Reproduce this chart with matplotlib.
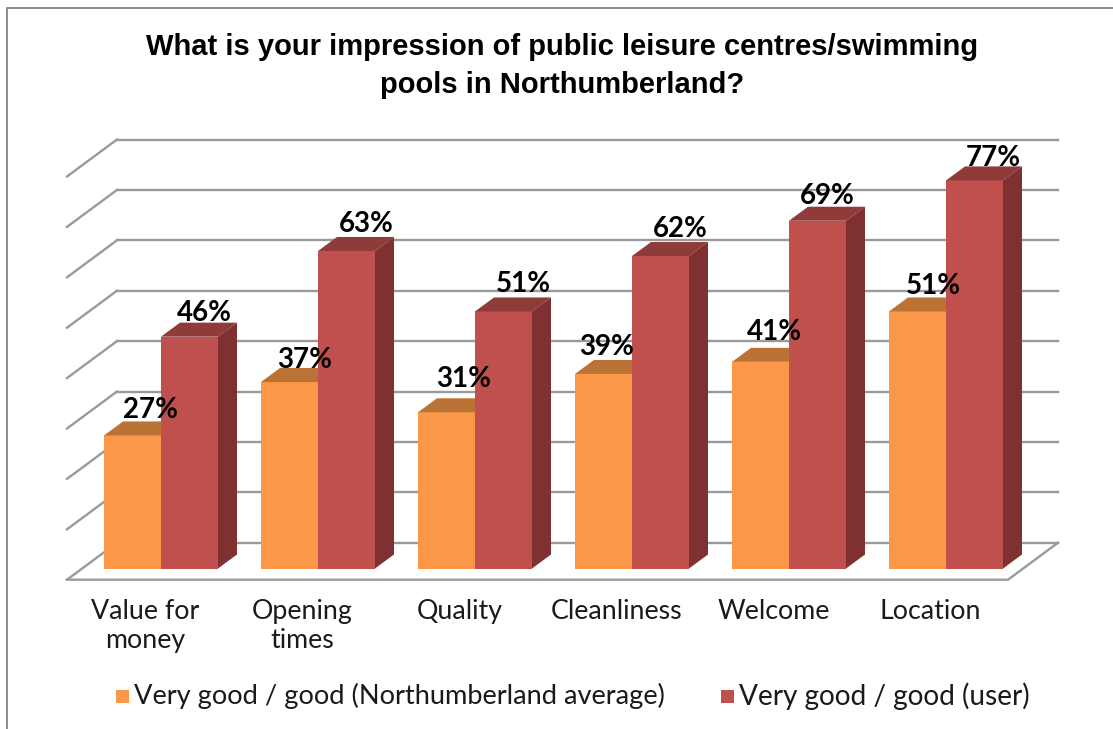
import matplotlib
matplotlib.use('Agg')
import matplotlib.pyplot as plt
from matplotlib.patches import Polygon, Rectangle

categories = ['Value for\nmoney', 'Opening\ntimes', 'Quality', 'Cleanliness', 'Welcome', 'Location']
average = [26.4, 37, 31, 38.6, 41, 51]
user = [46, 63, 51, 62, 69, 77]
average_labels = ['27%', '37%', '31%', '39%', '41%', '51%']
user_labels = ['46%', '63%', '51%', '62%', '69%', '77%']
grid_values = [0, 10, 20, 30, 40, 50, 60, 70, 80]
series_names = ['Very good / good (Northumberland average)', 'Very good / good (user)']

# the data labels were dragged around by hand in the original, so nudge them (pixels)
avg_nudge_x = [18, 15, 17, 3, 14, 16]
avg_nudge_y = [25, 22, 33, 27, 30, 25]
user_nudge_x = [15, 20, 20, 20, 10, 19]
user_nudge_y = [24, 27, 27, 27, 25, 22]

plt.rcParams['font.family'] = ['Liberation Sans', 'DejaVu Sans']
label_font = ['Lato', 'DejaVu Sans']
text_col = '#1a1a1a'

W, H = 1113, 729
fig = plt.figure(figsize=(W / 100, H / 100), dpi=100)
ax = fig.add_axes([0, 0, 1, 1])

# one x unit is one category, one y unit is one percent
px_x = 157.0
px_y = 5.04
x0 = 161
y0 = 568.5
ax.set_xlim(-x0 / px_x, (W - x0) / px_x)
ax.set_ylim((y0 - H) / px_y, y0 / px_y)
ax.axis('off')

bar_w = 57 / px_x
dx = 19 / px_x
dy = 14 / px_y
wall_dx = 50 / px_x
wall_dy = 37 / px_y
left_x = (67 - x0) / px_x
right_x = (1008 - x0) / px_x
floor_y = -11.2 / px_y

# walls and floor lines
grid_col = '#9a9a9a'
for v in grid_values:
    ax.plot([left_x, left_x + wall_dx], [floor_y + v, floor_y + v + wall_dy],
            color=grid_col, lw=1.7, zorder=1)
    ax.plot([left_x + wall_dx, right_x + wall_dx], [floor_y + v + wall_dy] * 2,
            color=grid_col, lw=1.7, zorder=1)
ax.plot([left_x, right_x, right_x + wall_dx],
        [floor_y, floor_y, floor_y + wall_dy], color=grid_col, lw=1.7, zorder=1)


def draw_bar(x, val, front, top, side):
    ax.bar(x, val, width=bar_w, align='edge', color=front, zorder=3)
    ax.add_patch(Polygon([(x, val), (x + bar_w, val), (x + bar_w + dx, val + dy), (x + dx, val + dy)],
                         color=top, lw=0, zorder=3))
    ax.add_patch(Polygon([(x + bar_w, 0), (x + bar_w + dx, dy), (x + bar_w + dx, val + dy), (x + bar_w, val)],
                         color=side, lw=0, zorder=3))


for i in range(len(categories)):
    draw_bar(i - bar_w, average[i], '#fa9748', '#ba7235', '#ba7235')
    draw_bar(i, user[i], '#c0504d', '#8f3b39', '#7e3130')
    ax.annotate(average_labels[i], (i - bar_w / 2, average[i]), xytext=(avg_nudge_x[i], avg_nudge_y[i]),
                textcoords='offset pixels', fontsize=20, family=label_font, fontweight='bold',
                ha='center', va='center', color='black', zorder=5)
    ax.annotate(user_labels[i], (i + bar_w / 2, user[i]), xytext=(user_nudge_x[i], user_nudge_y[i]),
                textcoords='offset pixels', fontsize=20, family=label_font, fontweight='bold',
                ha='center', va='center', color='black', zorder=5)
    ax.text(i - 0.1, -6.0, categories[i], fontsize=19.3, family=label_font, ha='center', va='top',
            color=text_col, linespacing=1.2)

ax.text(0.505, 0.909, 'What is your impression of public leisure centres/swimming\npools in Northumberland?',
        transform=ax.transAxes, fontsize=21, fontweight='bold', ha='center', va='center', linespacing=1.45)

# legend
ax.add_patch(Rectangle((116 / W, 1 - 703 / H), 13 / W, 13 / H, transform=ax.transAxes, color='#fa9748', lw=0))
ax.text(134 / W, 1 - 696 / H, series_names[0], transform=ax.transAxes, fontsize=19.6, family=label_font,
        va='center', color=text_col)
ax.add_patch(Rectangle((721 / W, 1 - 703 / H), 13 / W, 13 / H, transform=ax.transAxes, color='#c0504d', lw=0))
ax.text(739 / W, 1 - 696 / H, series_names[1], transform=ax.transAxes, fontsize=20.2, family=label_font,
        va='center', color=text_col)

# chart frame
ax.plot([6.5 / W, 6.5 / W, 1], [0, 1 - 7.5 / H, 1 - 7.5 / H], transform=ax.transAxes, color='#8c8c8c', lw=1.4)

fig.savefig('out.png', dpi=100)
